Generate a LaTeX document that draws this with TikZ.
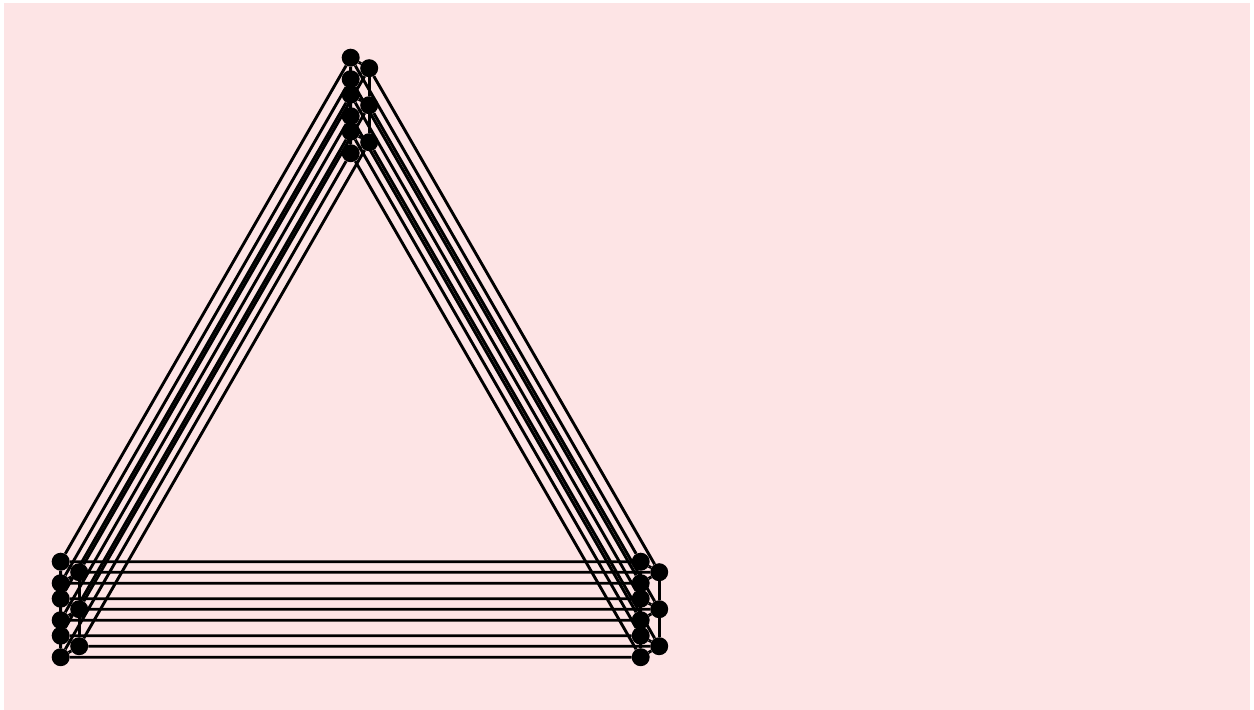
\documentclass[tikz,border=0pt]{standalone}
\definecolor{bg}{RGB}{253,228,229}
\begin{document}
\begin{tikzpicture}[x=1pt,y=-1pt,
  dot/.style={circle,fill=black,inner sep=0pt,minimum size=18pt},
  edge/.style={line width=2.9pt}]
\useasboundingbox (0,0) rectangle (1254,710);
\fill[white] (0,0) rectangle (1254,710);
\fill[bg] (4,3) rectangle (1250,710);
\foreach \k in {0,1,2}{
  \foreach \j/\dx/\dy in {0/0/0,1/18.5/10.5,2/0/21.5}{
    \node[dot] (T\k\j) at (350.7+\dx, 57.7+\dy+37*\k) {};
    \node[dot] (L\k\j) at (60.7+\dx, 561.7+\dy+37*\k) {};
    \node[dot] (R\k\j) at (640.7+\dx, 561.7+\dy+37*\k) {};
  }
}
\foreach \k in {0,1,2}{
  \foreach \j in {0,1,2}{
    \draw[edge] (T\k\j) -- (L\k\j) -- (R\k\j) -- (T\k\j);
  }
  \foreach \v in {T,L,R}{
    \draw[edge] (\v\k0) -- (\v\k1) -- (\v\k2) -- (\v\k0);
  }
}
\foreach \j in {0,1,2}{
  \foreach \v in {T,L,R}{
    \draw[edge] (\v0\j) -- (\v1\j) -- (\v2\j);
  }
}
\end{tikzpicture}
\end{document}
